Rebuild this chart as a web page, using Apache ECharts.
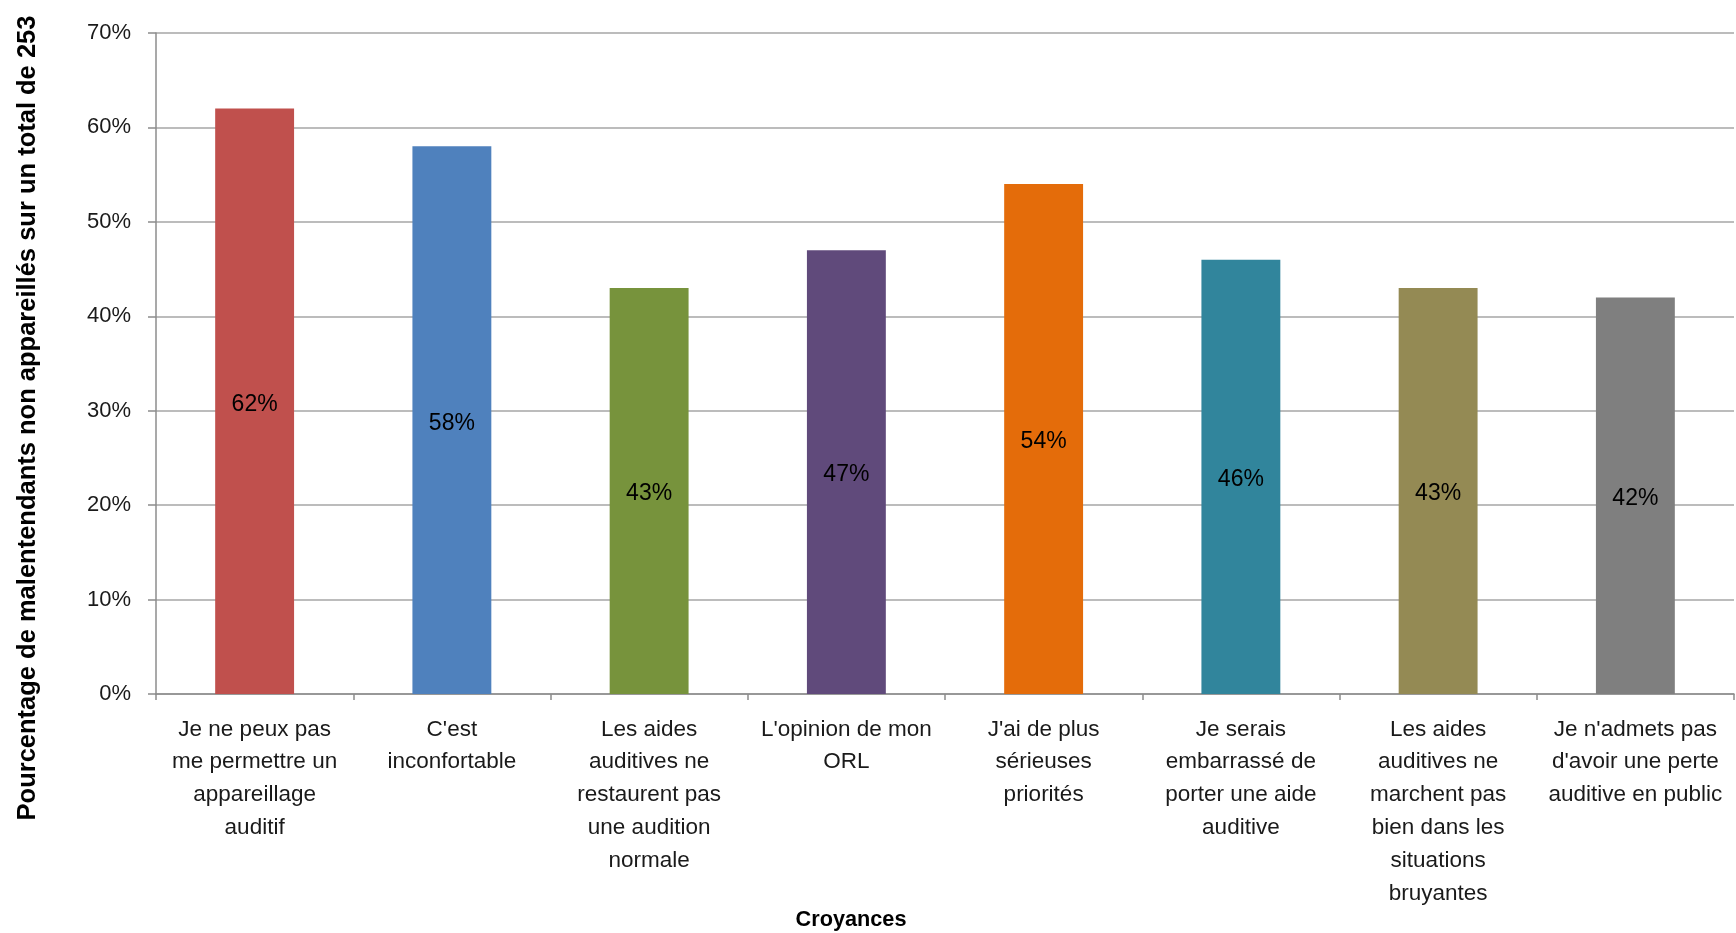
<!DOCTYPE html>
<html><head><meta charset="utf-8">
<script src="https://cdn.jsdelivr.net/npm/echarts@6/dist/echarts.min.js"></script>
<style>html,body{margin:0;padding:0;background:#fff}#c{width:1736px;height:933px}</style>
</head><body><div id="c"></div>
<script>
const categories = [
  "Je ne peux pas\nme permettre un\nappareillage\nauditif",
  "C'est\ninconfortable",
  "Les aides\nauditives ne\nrestaurent pas\nune audition\nnormale",
  "L'opinion de mon\nORL",
  "J'ai de plus\nsérieuses\npriorités",
  "Je serais\nembarrassé de\nporter une aide\nauditive",
  "Les aides\nauditives ne\nmarchent pas\nbien dans les\nsituations\nbruyantes",
  "Je n'admets pas\nd'avoir une perte\nauditive en public"
];
const values = [62, 58, 43, 47, 54, 46, 43, 42];
const colors = ["#C0504D", "#4F81BD", "#77933C", "#604A7B", "#E46C0A", "#31859C", "#948A54", "#7F7F7F"];
const yTicks = [0, 10, 20, 30, 40, 50, 60, 70];
const yAxisTitle = "Pourcentage de malentendants non appareillés sur un total de 253";
const xAxisTitle = "Croyances";

const font = "'Liberation Sans', 'Open Sans', sans-serif";
const chart = echarts.init(document.getElementById('c'));
chart.setOption({
  animation: false,
  grid: { left: 156, right: 2, top: 33, bottom: 239, containLabel: false },
  xAxis: {
    type: 'category',
    data: categories,
    axisLine: { lineStyle: { color: '#8C8C8C', width: 1.5 } },
    axisTick: { show: true, length: 6, alignWithLabel: false, lineStyle: { color: '#8C8C8C', width: 1.5 } },
    axisLabel: { interval: 0, color: '#1a1a1a', fontSize: 22.5, fontFamily: font, lineHeight: 32.8, margin: 19 }
  },
  yAxis: {
    type: 'value',
    min: yTicks[0], max: yTicks[yTicks.length - 1], interval: 10,
    axisLine: { show: true, lineStyle: { color: '#8C8C8C', width: 1.5 } },
    axisTick: { show: true, length: 8, lineStyle: { color: '#8C8C8C', width: 1.5 } },
    splitLine: { show: true, lineStyle: { color: '#A6A6A6', width: 1.5 } },
    axisLabel: { color: '#1a1a1a', fontSize: 22, fontFamily: font, margin: 25, formatter: v => v + '%' }
  },
  series: [{
    type: 'bar',
    barWidth: '40%',
    data: values.map((v, i) => ({ value: v, itemStyle: { color: colors[i] } })),
    label: { show: true, position: 'inside', offset: [0, 3], color: '#000', fontSize: 23, fontFamily: font, formatter: p => p.value + '%' }
  }],
  graphic: [
    { type: 'text', x: 28, y: 418, rotation: Math.PI / 2,
      style: { text: yAxisTitle, font: "bold 25.5px 'Liberation Sans', sans-serif", fill: '#000', align: 'center', verticalAlign: 'middle' } },
    { type: 'text', x: 851, y: 920,
      style: { text: xAxisTitle, font: "bold 21.7px 'Liberation Sans', sans-serif", fill: '#000', align: 'center', verticalAlign: 'middle' } }
  ]
});
</script></body></html>
